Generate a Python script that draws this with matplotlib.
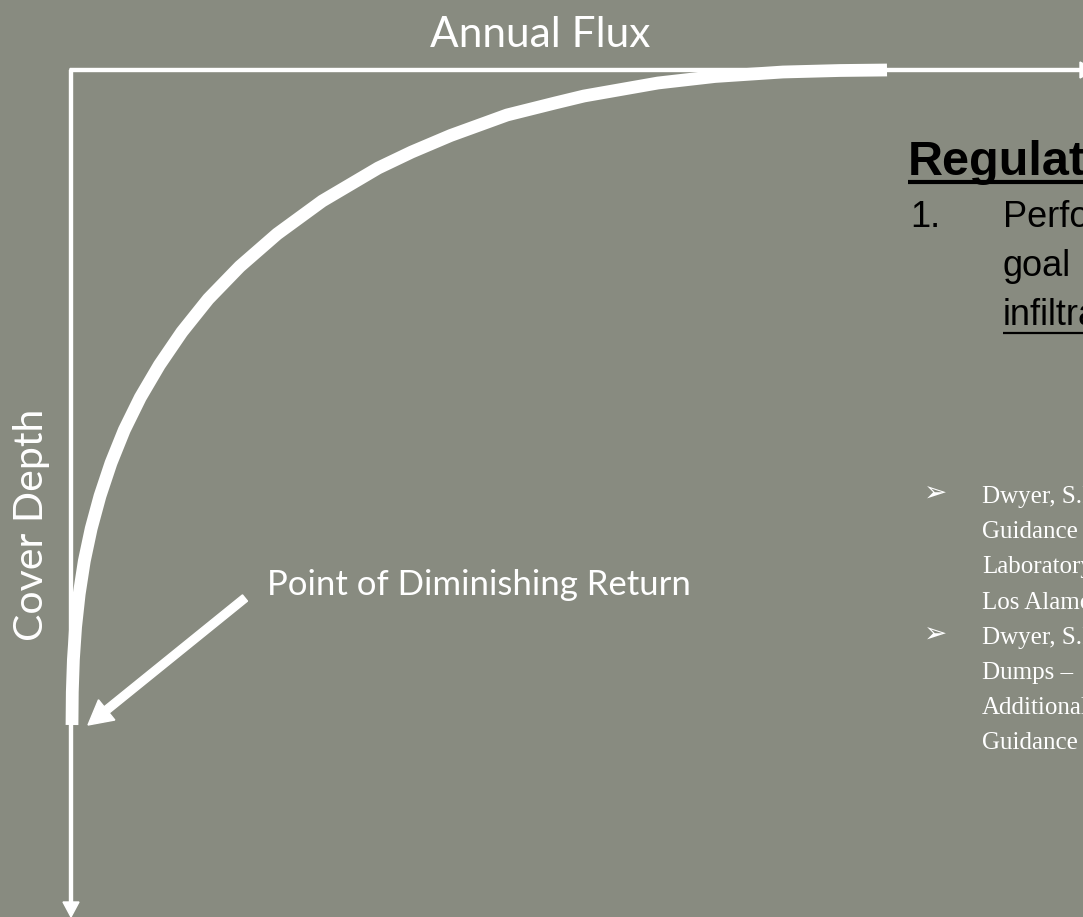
import matplotlib
matplotlib.use("Agg")
import matplotlib.pyplot as plt

# curve (pixel units, depth grows downward)
flux = [72, 72.3, 73.4, 75.6, 79.2, 84.3, 91.2, 100, 111, 124.3, 140.3, 159.4, 181.9,
        208.3, 239.8, 277.1, 322.3, 378.2, 411.7, 450.6, 507, 555, 584, 658, 715, 783, 840, 887]
depth = [725, 692, 659.5, 627, 594, 561, 528.5, 496, 463, 430, 397.5, 365, 332,
         299, 266.5, 234, 201, 168, 152, 135.5, 115, 103, 96, 83, 76.5, 72, 70.5, 70]

x_label = "Annual Flux"
y_label = "Cover Depth"
point_label = "Point of Diminishing Return"

reg_title = "Regulatory"
reg_number = "1."
reg_lines = ["Performance", "goal", "infiltration"]

cite_lines = ["Dwyer, S.F.", "Guidance", "Laboratory", "Los Alamos",
              "Dwyer, S.F.", "Dumps \u2013", "Additional", "Guidance"]
cite_bullets = [0, 4]

BG = "#888b80"
W, H = 1083, 917

fig = plt.figure(figsize=(W / 100, H / 100), dpi=100)
fig.patch.set_facecolor(BG)
ax = fig.add_axes([0, 0, 1, 1])
ax.set_facecolor(BG)
ax.set_xlim(0, W)
ax.set_ylim(H, 0)
ax.axis("off")

# axes drawn as arrows
ax.arrow(70, 70, 1025, 0, width=3, head_width=16, head_length=15,
         length_includes_head=True, color="white", clip_on=False)
ax.arrow(71, 70, 0, 847, width=3, head_width=16, head_length=15,
         length_includes_head=True, color="white", clip_on=False)

ax.plot(flux, depth, color="white", lw=9.2, solid_capstyle="butt", solid_joinstyle="round")

# pointer to the knee
ax.arrow(245, 598, -157, 127, width=8, head_width=26, head_length=24,
         length_includes_head=True, color="white")

ax.text(540, 47, x_label, family="Lato", fontsize=30.5, color="white",
        ha="center", va="baseline")
ax.text(32, 525, y_label, family="Lato", fontsize=29.5, color="white",
        ha="center", va="center", rotation=90)
ax.text(267, 595, point_label, family="Lato", fontsize=25, color="white",
        ha="left", va="baseline")

# right-hand text block, cut off by the slide edge
t_title = ax.text(908, 175, reg_title, family="Liberation Sans", fontweight="bold",
                  fontsize=35, color="black", ha="left", va="baseline")
ax.text(910, 227, reg_number, family="Liberation Sans", fontsize=26, color="black",
        ha="left", va="baseline")
reg_texts = []
for i, line in enumerate(reg_lines):
    reg_texts.append(ax.text(1003, 227 + 49 * i, line, family="Liberation Sans",
                             fontsize=26, color="black", ha="left", va="baseline"))

for i, line in enumerate(cite_lines):
    yb = 503 + 35.2 * i
    if i in cite_bullets:
        ax.text(924, yb - 1, "\u27a2", family=["DejaVu Sans"], fontsize=20,
                color="white", ha="left", va="baseline")
    ax.text(982, yb, line, family=["Liberation Serif", "DejaVu Serif"], fontsize=18,
            color="white", ha="left", va="baseline")

# underlines
fig.canvas.draw()
inv = ax.transData.inverted()
for t, y, lw in [(t_title, 182, 3.0), (reg_texts[2], 333, 1.6)]:
    bb = t.get_window_extent()
    x0 = inv.transform((bb.x0, bb.y0))[0]
    x1 = inv.transform((bb.x1, bb.y0))[0]
    ax.plot([x0, x1], [y, y], color="black", lw=lw, solid_capstyle="butt", clip_on=False)

fig.savefig("out.png", dpi=100, facecolor=BG)
